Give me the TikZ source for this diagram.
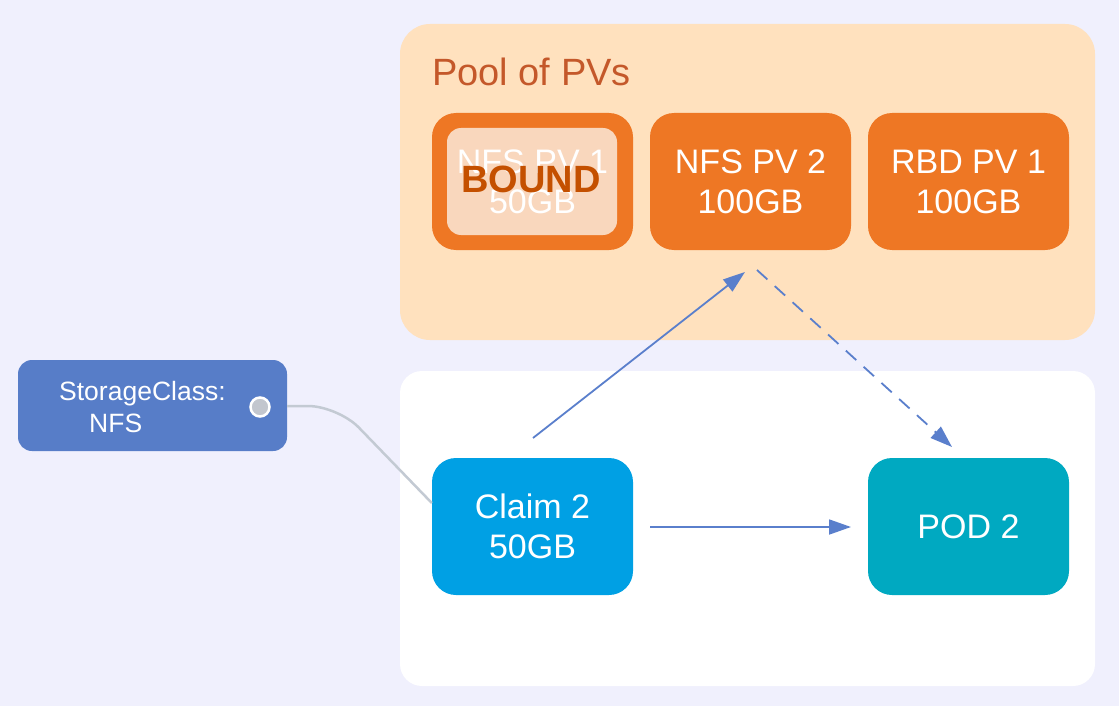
\documentclass[tikz,border=0pt]{standalone}
\usepackage{fontspec}
\setmainfont{Liberation Sans}
\usetikzlibrary{arrows.meta}
\definecolor{bgc}{HTML}{F0F0FD}
\definecolor{pool}{HTML}{FFE1BE}
\definecolor{pooltxt}{HTML}{C4582A}
\definecolor{pvorange}{HTML}{EE7724}
\definecolor{pvinner}{HTML}{F9D7BD}
\definecolor{boundc}{HTML}{C45000}
\definecolor{scblue}{HTML}{577DC8}
\definecolor{claimc}{HTML}{00A0E4}
\definecolor{podc}{HTML}{00A9C1}
\definecolor{arrowc}{HTML}{5A7FCC}
\definecolor{linkc}{HTML}{C3CAD3}
\definecolor{dotc}{HTML}{C2C6CE}
\tikzset{
  box/.style={rectangle, rounded corners=24pt, minimum width=201pt, minimum height=137pt,
    text=white, font=\fontsize{34}{40}\selectfont, align=center, inner sep=0pt},
  pvbox/.style={box, fill=pvorange},
  arr/.style={draw=arrowc, line width=1.8pt, -{Triangle[length=22pt,width=15pt]}},
}
\begin{document}
\begin{tikzpicture}[x=1pt,y=-1pt]
\fill[bgc] (0,0) rectangle (1119,706);
\useasboundingbox (0,0) rectangle (1119,706);
% containers
\node[rectangle, rounded corners=30pt, fill=pool, minimum width=695pt, minimum height=316pt, inner sep=0pt] (poolbox) at (747.5,182) {};
\node[rectangle, rounded corners=22pt, fill=white, minimum width=695pt, minimum height=315pt, inner sep=0pt] (lower) at (747.5,528.5) {};
\node[anchor=base west, text=pooltxt, font=\fontsize{38}{44}\selectfont, inner sep=0pt] (pooltitle) at (432,86) {Pool of PVs};
% PVs
\node[pvbox] (pv1) at (532.5,181.5) {};
\node[rectangle, rounded corners=14pt, fill=pvinner, minimum width=170pt, minimum height=107pt, inner sep=0pt] (pv1in) at (532,181.5) {};
\node[text=white, font=\fontsize{34}{40}\selectfont, align=center, inner sep=0pt] (pv1txt) at (532.5,181.5) {NFS PV 1\\50GB};
\node[text=boundc, font=\bfseries\fontsize{38}{44}\selectfont, inner sep=0pt] (bound) at (531,179) {BOUND};
\node[pvbox] (pv2) at (750.5,181.5) {NFS PV 2\\100GB};
\node[pvbox] (rbd) at (968.5,181.5) {RBD PV 1\\100GB};
% claim and pod
\node[box, fill=claimc] (claim) at (532.5,526.5) {Claim 2\\50GB};
\node[box, fill=podc] (pod) at (968.5,526.5) {POD 2};
% storage class
\node[rectangle, rounded corners=14pt, fill=scblue, minimum width=269pt, minimum height=91pt, inner sep=0pt] (sc) at (152.5,405.5) {};
\node[text=white, font=\fontsize{26.5}{30}\selectfont, anchor=base west, inner sep=0pt] (sct1) at (59,400) {StorageClass:};
\node[text=white, font=\fontsize{26.5}{30}\selectfont, anchor=base west, inner sep=0pt] (sct2) at (89,432) {NFS};
\node[circle, fill=dotc, draw=white, line width=2.5pt, minimum size=19pt, inner sep=0pt] (dot) at (260,407) {};
% connectors
\draw[linkc, line width=2.5pt, rounded corners=30pt] (sc.east |- 0,406) -- (338,406) -- (claim.west |- 0,503);
\coordinate (a1s) at (533,438);
\coordinate (a1e) at (745,272);
\draw[arr] (a1s) -- (a1e);
\coordinate (a2s) at (757,270);
\coordinate (a2e) at (952,447);
\draw[arr, dash pattern=on 14pt off 10pt] (a2s) -- (a2e);
\coordinate (a3s) at (650,527);
\coordinate (a3e) at (851,527);
\draw[arr] (a3s) -- (a3e);
\end{tikzpicture}
\end{document}
